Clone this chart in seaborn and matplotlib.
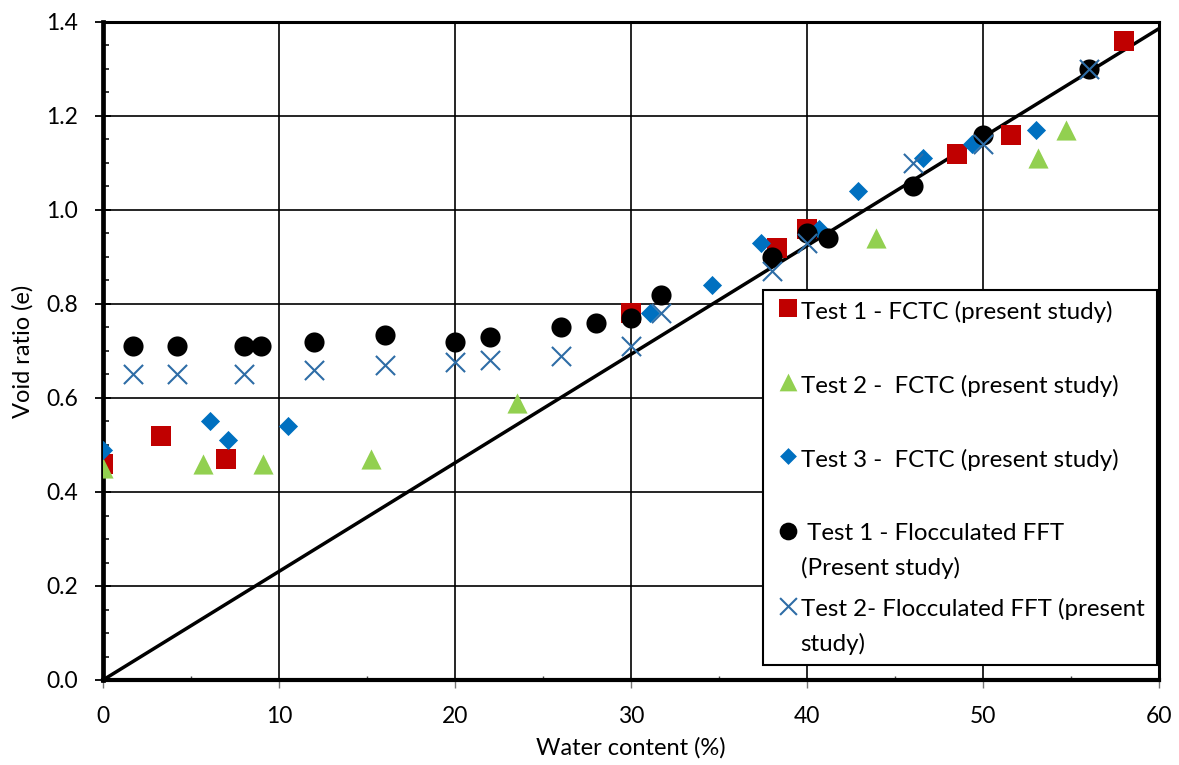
import matplotlib
matplotlib.use("Agg")
import matplotlib.pyplot as plt
from matplotlib.ticker import MultipleLocator, FormatStrFormatter
from matplotlib.collections import PathCollection
from matplotlib.legend_handler import HandlerPathCollection
import seaborn as sns
import pandas as pd

# Test 1 - FCTC
t1_fctc_w = [0.0, 3.3, 7.0, 30.0, 38.3, 40.0, 48.5, 51.6, 58.0]
t1_fctc_e = [0.46, 0.52, 0.47, 0.78, 0.92, 0.96, 1.12, 1.16, 1.36]

# Test 2 - FCTC
t2_fctc_w = [0.0, 5.7, 9.1, 15.2, 23.5, 43.9, 53.1, 54.7]
t2_fctc_e = [0.45, 0.46, 0.46, 0.47, 0.59, 0.94, 1.11, 1.17]

# Test 3 - FCTC
t3_fctc_w = [0.0, 6.1, 7.1, 10.5, 31.1, 34.6, 37.4, 40.7, 42.9, 46.6, 49.4, 53.0]
t3_fctc_e = [0.49, 0.55, 0.51, 0.54, 0.78, 0.84, 0.93, 0.96, 1.04, 1.11, 1.14, 1.17]

# Test 1 - Flocculated FFT
t1_fft_w = [1.7, 4.2, 8.0, 9.0, 12.0, 16.0, 20.0, 22.0, 26.0, 28.0, 30.0, 31.7,
            38.0, 40.0, 41.2, 46.0, 50.0, 56.0]
t1_fft_e = [0.71, 0.71, 0.71, 0.71, 0.72, 0.735, 0.72, 0.73, 0.75, 0.76, 0.77, 0.82,
            0.90, 0.95, 0.94, 1.05, 1.16, 1.30]

# Test 2 - Flocculated FFT
t2_fft_w = [1.7, 4.2, 8.0, 12.0, 16.0, 20.0, 22.0, 26.0, 30.0, 31.7,
            38.0, 40.0, 46.0, 50.0, 56.0]
t2_fft_e = [0.65, 0.65, 0.65, 0.66, 0.67, 0.676, 0.68, 0.69, 0.71, 0.78,
            0.87, 0.93, 1.10, 1.14, 1.30]

# Full saturation line
sat_w = [0, 60]
sat_e = [0, 1.386]

# Every legend entry spans two text lines so that all entries get the same slot
labels = [
    "Test 1 - FCTC (present study)\n",
    "Test 2 -  FCTC (present study)\n",
    "Test 3 -  FCTC (present study)\n",
    " Test 1 - Flocculated FFT\n(Present study)",
    "Test 2- Flocculated FFT (present\nstudy)",
]

sns.set_theme(style="white")
plt.rcParams["font.family"] = ["Lato", "DejaVu Sans"]

fig = plt.figure(figsize=(11.79, 7.65), dpi=100)
ax = fig.add_axes([103 / 1179, 85 / 765, 1056 / 1179, 658 / 765])

sns.lineplot(x=sat_w, y=sat_e, ax=ax, color="black", linewidth=2.5, zorder=2)

series = [
    (t1_fctc_w, t1_fctc_e, "s", "#C00000", 200, 0),
    (t2_fctc_w, t2_fctc_e, "^", "#92D050", 210, 0),
    (t3_fctc_w, t3_fctc_e, "D", "#0070C0", 95, 0),
    (t1_fft_w, t1_fft_e, "o", "black", 210, 0),
    (t2_fft_w, t2_fft_e, "x", "#2E6DA6", 190, 1.5),
]
handles = []
for (w, e, m, c, s, lw), lab in zip(series, labels):
    df = pd.DataFrame({"w": w, "e": e})
    sns.scatterplot(data=df, x="w", y="e", ax=ax, marker=m, color=c, s=s,
                    linewidth=lw, zorder=4 if m == "x" else 3, legend=False)
    handles.append(ax.collections[-1])

ax.set_xlim(0, 60)
ax.set_ylim(0, 1.4)
ax.xaxis.set_major_locator(MultipleLocator(10))
ax.xaxis.set_minor_locator(MultipleLocator(5))
ax.yaxis.set_major_locator(MultipleLocator(0.2))
ax.yaxis.set_minor_locator(MultipleLocator(0.05))
ax.yaxis.set_major_formatter(FormatStrFormatter("%.1f"))
ax.grid(True, which="major", color="black", linewidth=1.2)
ax.set_axisbelow(True)

for side, lw in [("left", 3.4), ("bottom", 3.0), ("top", 2.2), ("right", 2.2)]:
    ax.spines[side].set_linewidth(lw)
    ax.spines[side].set_color("black")

ax.tick_params(axis="y", which="major", direction="inout", length=12, width=1.3,
               left=True, labelsize=16.5, colors="black", pad=12)
ax.tick_params(axis="y", which="minor", direction="in", length=4, width=1.1,
               left=True, color="black")
ax.tick_params(axis="x", which="major", direction="out", length=6, width=1.0,
               bottom=True, labelsize=16.5, labelcolor="black", color="#777777",
               pad=13)
ax.tick_params(axis="x", which="minor", direction="in", length=3, width=1.0,
               bottom=True, color="#444444")

ax.set_xlabel("Water content (%)", fontsize=17, color="black")
ax.set_ylabel("Void ratio (e)", fontsize=17, color="black")
ax.xaxis.set_label_coords(0.5, -(737 - 680) / 658)
ax.yaxis.set_label_coords(-(103 - 34) / 1056, 0.5)

# markers sit beside the first line of each two-line label
marker_handler = HandlerPathCollection(yoffsets=[1.70])
leg = ax.legend(handles, labels, loc="upper left",
                bbox_to_anchor=(0.625, 0.0927, 0.373, 0.5),
                mode="expand", frameon=True, fancybox=False, fontsize=17.4,
                labelspacing=0.79, handletextpad=-0.08, handlelength=1.2,
                borderaxespad=0, borderpad=0.44, markerscale=0.88,
                scatterpoints=1, handler_map={PathCollection: marker_handler})
for t in leg.get_texts():
    t.set_linespacing(1.7)
    t.set_color("black")
leg.get_frame().set_edgecolor("black")
leg.get_frame().set_linewidth(1.5)
leg.get_frame().set_facecolor("white")
leg.get_frame().set_alpha(1)
leg.set_zorder(10)

fig.savefig("out.png", dpi=100)
